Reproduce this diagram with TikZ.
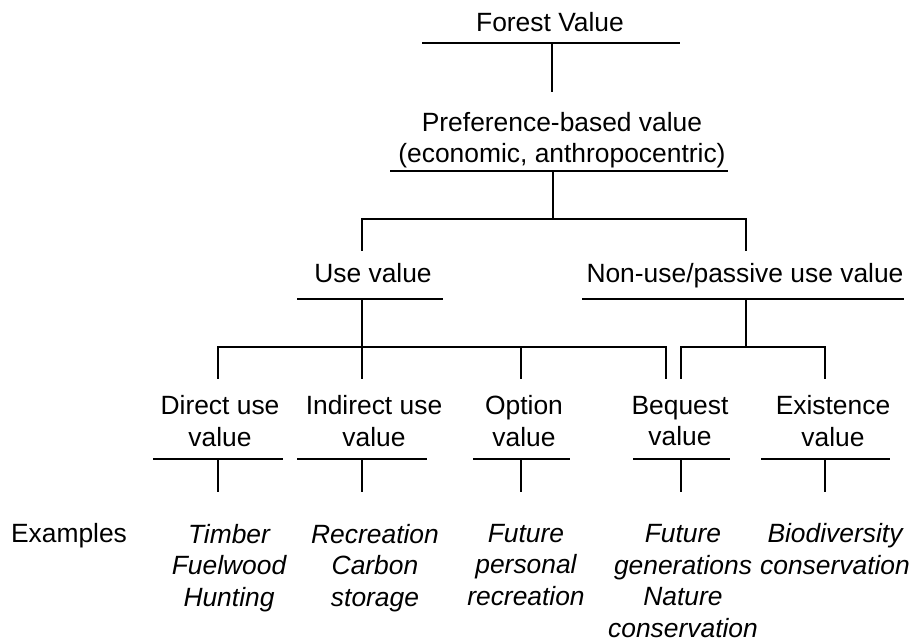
\documentclass[tikz,border=0pt]{standalone}
\usepackage{fontspec}
\setmainfont{Liberation Sans}
\tikzstyle{val} = [inner sep=0pt, align=center, font=\fontsize{13.2}{15.8}\selectfont]
\tikzstyle{ex} = [val, font=\fontsize{13.2}{15.8}\selectfont\itshape]
\tikzstyle{bar} = [line width=1pt]
\tikzstyle{link} = [line width=0.9pt]

\begin{document}
\begin{tikzpicture}[x=0.5pt, y=-0.5pt]
\useasboundingbox (0,0) rectangle (918,642);
% value nodes
\node (forest) [val, anchor=base] at (550,32) {Forest Value};
\node (pref) [val] at (562,140) {Preference-based value\\(economic, anthropocentric)};
\node (use) [val, anchor=base] at (373,283) {Use value};
\node (nonuse) [val, anchor=base] at (745,283) {Non-use/passive use value};
\node (direct) [val] at (220,421) {Direct use\\value};
\node (indirect) [val] at (374,421) {Indirect use\\value};
\node (option) [val] at (524,421) {Option\\value};
\node (bequest) [val] at (680,421) {Bequest\\value};
\node (exist) [val] at (833,421) {Existence\\value};
% examples
\node (examples) [val, anchor=base] at (69,543) {Examples};
\node (exdirect) [ex] at (229,568) {Timber\\Fuelwood\\Hunting};
\node (exindirect) [ex] at (375,568) {Recreation\\Carbon\\storage};
\node (exoption) [ex] at (526,565) {Future\\personal\\recreation};
\node (exbequest) [ex] at (683,581) {Future\\generations\\Nature\\conservation};
\node (exexist) [ex] at (835,549) {Biodiversity\\conservation};
% underlines
\coordinate (forest-l) at (422,43);
\coordinate (forest-r) at (680,43);
\coordinate (pref-l) at (390,171);
\coordinate (pref-r) at (728,171);
\coordinate (use-l) at (297,299);
\coordinate (use-r) at (443,299);
\coordinate (nonuse-l) at (582,299);
\coordinate (nonuse-r) at (904,299);
\coordinate (direct-l) at (153,459);
\coordinate (direct-r) at (283,459);
\coordinate (indirect-l) at (297,459);
\coordinate (indirect-r) at (427,459);
\coordinate (option-l) at (473,459);
\coordinate (option-r) at (570,459);
\coordinate (bequest-l) at (633,459);
\coordinate (bequest-r) at (730,459);
\coordinate (exist-l) at (761,459);
\coordinate (exist-r) at (890,459);
\foreach \n in {forest,pref,use,nonuse,direct,indirect,option,bequest,exist}
  \draw[bar] (\n-l) -- (\n-r);
% junctions
\coordinate (forest-j) at (552,43);
\coordinate (forest-down) at (552,92);
\coordinate (pref-j) at (553,171);
\coordinate (pref-br) at (553,219);
\coordinate (use-top) at (362,251);
\coordinate (nonuse-top) at (746,251);
\coordinate (use-j) at (362,299);
\coordinate (use-end) at (666,347);
\coordinate (use-end-up) at (666,379);
\coordinate (nonuse-j) at (746,299);
\coordinate (nonuse-br) at (746,347);
\foreach \n/\x in {direct/218, indirect/362, option/521, bequest/681, exist/825} {
  \coordinate (\n-up) at (\x,379);
  \coordinate (\n-bar) at (\x,459);
  \coordinate (\n-down) at (\x,492);
}
% connectors
\draw[link] (forest-j) -- (forest-down);
\draw[link] (pref-j) -- (pref-br);
\draw[link] (use-top) |- (nonuse-top |- pref-br) -- (nonuse-top);
\draw[link] (use-j) -- (indirect-up);
\draw[link] (direct-up) |- (use-end) -- (use-end-up);
\draw[link] (option-up) -- (option-up |- use-end);
\draw[link] (nonuse-j) -- (nonuse-br);
\draw[link] (bequest-up) |- (exist-up |- nonuse-br) -- (exist-up);
\foreach \n in {direct,indirect,option,bequest,exist}
  \draw[link] (\n-bar) -- (\n-down);
\end{tikzpicture}
\end{document}
